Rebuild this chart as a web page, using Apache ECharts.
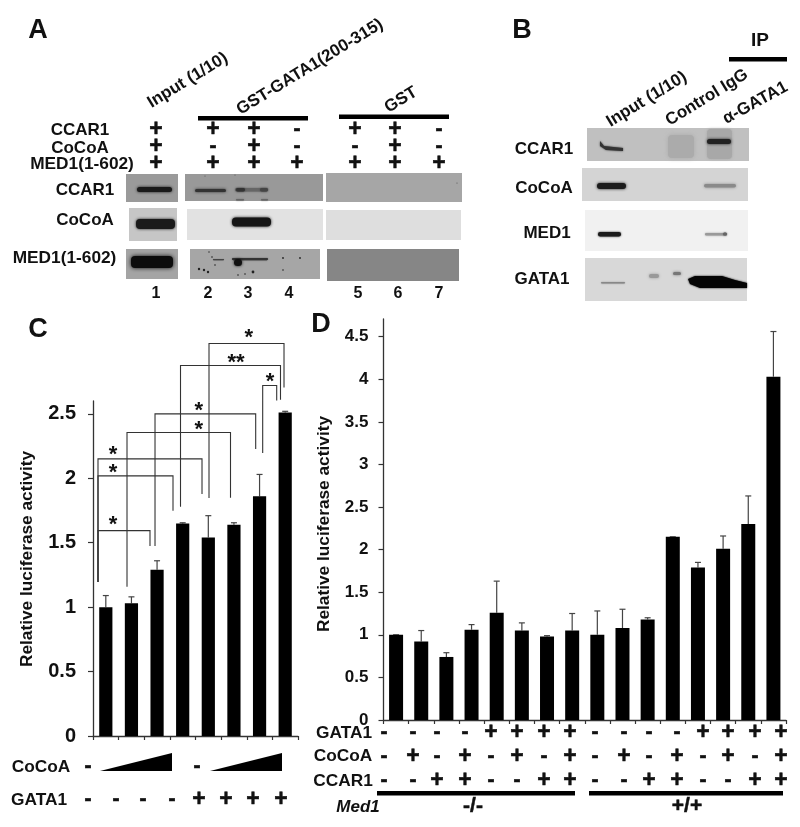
<!DOCTYPE html>
<html><head><meta charset="utf-8">
<style>html,body{margin:0;padding:0;background:#fff}#c{width:800px;height:827px}</style>
<script src="https://cdn.jsdelivr.net/npm/echarts@6/dist/echarts.min.js"></script>
</head><body><div id="c"></div>
<script>
// ---- Data: panel C
const cCategories = ['1','2','3','4','5','6','7','8'];
const cValues = [1.0,1.03,1.29,1.65,1.54,1.64,1.86,2.51];
const cErrorTops = [1.09,1.08,1.36,1.655,1.71,1.655,2.03,2.52];
const cTicks = [0,0.5,1,1.5,2,2.5];
const cCocoa = ['-','ramp','','','-','ramp','',''];
const cGata1 = ['-','-','-','-','+','+','+','+'];
// significance brackets: left x, left foot, right x, right foot, top
const cBrackets = [
 [0.195,1.196,2.224,1.475,1.594],
 [0.195,1.196,3.122,1.749,2.019],
 [0.195,1.196,4.254,1.879,2.151],
 [1.327,1.159,5.366,1.850,2.355],
 [2.42,1.475,6.349,2.228,2.5],
 [3.415,1.780,7.317,2.609,2.875],
 [4.527,1.848,7.454,2.704,3.046],
 [6.622,2.197,7.169,2.603,2.72]
];
const cStarLabels = ['*','*','*','*','*','**','*','*'];
const cStarX = [0.78,0.78,0.78,4.125,4.125,5.58,6.076,6.907];
const cStarY = [1.669,2.075,2.215,2.409,2.554,2.927,3.121,2.78];
// ---- Data: panel D
const dCategories = ['1','2','3','4','5','6','7','8','9','10','11','12','13','14','15','16'];
const dValues = [1.0,0.92,0.74,1.06,1.26,1.05,0.98,1.05,1.0,1.08,1.18,2.15,1.79,2.01,2.3,4.03];
const dErrorTops = [1.0,1.05,0.79,1.12,1.63,1.14,0.99,1.25,1.28,1.3,1.2,2.15,1.85,2.16,2.63,4.56];
const dTicks = [0,0.5,1,1.5,2,2.5,3,3.5,4,4.5];
const dGata1 = ['-','-','-','-','+','+','+','+','-','-','-','-','+','+','+','+'];
const dCocoa = ['-','+','-','+','-','+','-','+','-','+','-','+','-','+','-','+'];
const dCcar1 = ['-','-','+','+','-','-','+','+','-','-','+','+','-','-','+','+'];
// ---- Panel A / B text tables
const aRow1 = ['+','+','+','-','+','+','-'];
const aRow2 = ['+','-','+','-','-','+','-'];
const aRow3 = ['+','+','+','+','+','+','+'];
const aLanes = ['1','2','3','4','5','6','7'];

const FF = '"Liberation Sans", Arial, sans-serif';
const INK = '#111';
const g = [];
function t(s,x,y,size,o){o=o||{};g.push({type:'text',x:x,y:y,rotation:o.rot||0,z:20,style:{text:s,fill:o.fill||INK,
  stroke:o.stroke?INK:undefined,lineWidth:o.stroke||0,
  font:(o.italic?'italic ':'')+(o.weight||'bold')+' '+size+'px '+FF,align:o.align||'center',verticalAlign:'middle'}});}
function pm(s,x,y){ if(s==='+') t(s,x,y,23,{stroke:0.5}); else t(s,x,y-1,21,{stroke:0.7}); }
function r(x,y,w,h,fill,blur,z){g.push({type:'rect',z:z||5,shape:{x:x,y:y,width:w,height:h,r:(blur?Math.min(h/2,4):0)},
  style:{fill:fill,shadowBlur:blur||0,shadowColor:blur?fill:'transparent'}});}
function poly(pts,fill,blur,z){g.push({type:'polygon',z:z||6,shape:{points:pts,smooth:0},style:{fill:fill,shadowBlur:blur||0,shadowColor:fill}});}
function dots(list,fill){list.forEach(p=>g.push({type:'circle',z:7,shape:{cx:p[0],cy:p[1],r:p[2]||1},style:{fill:fill||'#222'}}));}

// Panel letters
t('A',38,31,27); t('B',522,31,27); t('C',38,330,27); t('D',321,325,27);

// ---- Panel A headers
t('Input (1/10)',149,104,17,{align:'left',rot:0.55});
t('GST-GATA1(200-315)',238,111,17,{align:'left',rot:0.55});
t('GST',386,109,17,{align:'left',rot:0.55});
r(198,116,110,4.5,'#000'); r(339,114.5,110,4.5,'#000');
t('CCAR1',80,130,17); t('CoCoA',80,148,17); t('MED1(1-602)',82,164,17.3);
const aX=[156,213,254,297,355,395,439];
const aY=[130,147,164];
[aRow1,aRow2,aRow3].forEach((row,k)=>row.forEach((s,i)=>pm(s,aX[i],aY[k])));
t('CCAR1',85,190,17); t('CoCoA',85,220,17); t('MED1(1-602)',64.5,258,17.3);
const laneX=[156,208,248,289,358,398,439];
aLanes.forEach((s,i)=>t(s,laneX[i],294,16));

// Panel A blots
r(126,174,52,28,'#9a9a9a'); r(185,174,138,27,'#999999'); r(326,173,136,29,'#a6a6a6');
r(129,208,48,33,'#c6c6c6'); r(187,209,136,31,'#e2e2e2'); r(326,210,135,30,'#dedede');
r(126,249,52,30,'#a4a4a4'); r(190,249,130,30,'#a6a6a6'); r(327,249,132,32,'#868686');
r(137,187,35,5,'#1a1a1a',3);
r(195,189,31,3,'#333',3);
r(235,188,33,3.5,'#666',2); r(236,188,9,3.5,'#333',2); r(260,188,8,3.5,'#444',2);
r(236,199,8,1.5,'#666',1.5); r(261,199,7,1.5,'#666',1.5);
r(136,219,39,10,'#1a1a1a',3);
r(232,217.5,39,9,'#151515',3);
r(131,256,42,12,'#0c0c0c',4);
r(213,259,11,1.2,'#444',0.8);
r(232,258,36,2.2,'#333',1.2); r(234,259,8,7,'#111',3);
dots([[199,269,1.2],[204,270,1.2],[208,272,1.2],[212,257,0.8],[215,265,0.8],[253,272,1.4],[283,258,0.9],[300,258,0.9],[283,270,0.8],[238,275,0.8],[245,274,0.8],[209,252,0.7]]);
dots([[205,176,0.6],[235,175,0.6],[457,183,0.6]],'#555');

// ---- Panel B
t('IP',760,41,19);
r(729,57,58,4.5,'#000');
t('Input (1/10)',608,123,17,{align:'left',rot:0.55});
t('Control IgG',667,122,17,{align:'left',rot:0.55});
t('\u03B1-GATA1',724,120,17,{align:'left',rot:0.5});
t('CCAR1',544,149,17); t('CoCoA',544,188,17); t('MED1',547,233,17); t('GATA1',542,279,17);
r(587,128,162,33,'#c0c0c0'); r(582,168,166,33,'#d4d4d4'); r(585,210,163,41,'#f1f1f1'); r(585,258,162,43,'#d8d8d8');
r(668,135,26,23,'#ababab',5); r(707,129,25,30,'#a8a8a8',3);
poly([[600,141],[604,146],[623,148],[623,151],[606,150],[600,146]],'#333',2);
r(707,139,24,5,'#222',3);
r(597,183,29,6,'#1c1c1c',3);
r(704,184,32,3.5,'#8a8a8a',3);
r(598,232,23,4.5,'#1a1a1a',2);
r(705,233,22,2.5,'#9a9a9a',2); r(723,232.5,4,3,'#666',1.5);
r(601,282,24,1.5,'#888',1.5);
r(649,274,10,4,'#999',3); r(673,272,8,3,'#777',3);
poly([[688,279],[695,276],[722,276],[735,280],[747,283],[747,288],[728,288],[700,288],[690,284]],'#050505',2);

// ---- Panel C annotations
t('Relative luciferase activity',27,559,17.3,{rot:Math.PI/2});
t('CoCoA',41,767,17.3); t('GATA1',39,800,17.3);
const cColX=[88,116,143,172,199,226,253,281];
cGata1.forEach((s,i)=>pm(s,cColX[i],800));
pm(cCocoa[0],88,767); pm(cCocoa[4],197,767);
poly([[100,771],[172,753],[172,771]],'#000');
poly([[210,771],[282,753],[282,771]],'#000');

// ---- Panel D annotations
t('Relative luciferase activity',324,524,17.3,{rot:Math.PI/2});
t('GATA1',344,733,17.3); t('CoCoA',343,756,17.3); t('CCAR1',343,781,17.3);
const dColX=[384,413,437,465,491,517,544,570,595,624,649,677,703,728,755,781];
[dGata1,dCocoa,dCcar1].forEach((row,k)=>row.forEach((s,i)=>pm(s,dColX[i],[733,757,781][k])));
r(377,791,198,4.5,'#000'); r(589,791,194,4.5,'#000');
t('Med1',358,807,17,{italic:true});
t('-/-',473,806,21,{stroke:0.5}); t('+/+',687,806,21,{stroke:0.5});

function errorBar(p,api){
  const x=api.value(0), top=api.coord([x,api.value(1)]), base=api.coord([x,api.value(2)]);
  const st={stroke:'#444',lineWidth:1.2,fill:'none'};
  return {type:'group',children:[
    {type:'line',shape:{x1:top[0],y1:base[1],x2:top[0],y2:top[1]},style:st},
    {type:'line',shape:{x1:top[0]-3,y1:top[1],x2:top[0]+3,y2:top[1]},style:st}]};
}
function bracket(p,api){
  const v=[0,1,2,3,4].map(d=>api.value(d));
  const a=api.coord([v[0],v[1]]), c=api.coord([v[0],v[4]]), b=api.coord([v[2],v[4]]), d=api.coord([v[2],v[3]]);
  const i=p.dataIndex, s=api.coord([cStarX[i],cStarY[i]]);
  return {type:'group',children:[
    {type:'polyline',shape:{points:[a,c,b,d]},style:{stroke:'#333',lineWidth:1.1,fill:'none'}},
    {type:'text',x:s[0],y:s[1]+4,style:{text:cStarLabels[i],fill:'#111',font:'bold 22px '+FF,align:'center',verticalAlign:'middle'}}]};
}
const axisBase={axisLine:{show:true,onZero:false,lineStyle:{color:'#333',width:1.3}},splitLine:{show:false}};
function yAxis(gi,max,ticks,size){return Object.assign({},axisBase,{type:'value',gridIndex:gi,min:0,max:max,
  axisTick:{show:true,length:5,customValues:ticks,lineStyle:{color:'#333',width:1.2}},
  axisLabel:{show:true,customValues:ticks,formatter:v=>String(v),color:INK,fontFamily:FF,fontWeight:'bold',fontSize:size,margin:gi?15:17}});}
function xAxis(gi,cats){return Object.assign({},axisBase,{type:'category',gridIndex:gi,data:cats,boundaryGap:true,
  axisTick:{show:true,length:4,alignWithLabel:false,interval:0,lineStyle:{color:'#333',width:1.2}},axisLabel:{show:false}});}

const chart=echarts.init(document.getElementById('c'),null,{renderer:'canvas'});
chart.setOption({
  animation:false,backgroundColor:'#fff',
  grid:[{left:93,top:401,width:205,height:335,containLabel:false},{left:383.5,top:319,width:402.5,height:401,containLabel:false}],
  xAxis:[xAxis(0,cCategories),xAxis(1,dCategories),
    {type:'value',gridIndex:0,min:0,max:8,show:false}],
  yAxis:[yAxis(0,2.6,cTicks,20),yAxis(1,4.707,dTicks,17)],
  series:[
    {type:'bar',xAxisIndex:0,yAxisIndex:0,barWidth:13.2,data:cValues,itemStyle:{color:'#000'},silent:true},
    {type:'custom',xAxisIndex:0,yAxisIndex:0,renderItem:errorBar,clip:false,z:1,encode:{x:0,y:[1,2]},
      data:cValues.map((v,i)=>[i,cErrorTops[i],v])},
    {type:'custom',xAxisIndex:2,yAxisIndex:0,renderItem:bracket,clip:false,z:3,encode:{x:[0,2],y:[1,3,4]},data:cBrackets},
    {type:'bar',xAxisIndex:1,yAxisIndex:1,barWidth:14,data:dValues,itemStyle:{color:'#000'},silent:true},
    {type:'custom',xAxisIndex:1,yAxisIndex:1,renderItem:errorBar,clip:false,z:1,encode:{x:0,y:[1,2]},
      data:dValues.map((v,i)=>[i,dErrorTops[i],v])}
  ],
  graphic:{elements:g}
});
</script></body></html>
